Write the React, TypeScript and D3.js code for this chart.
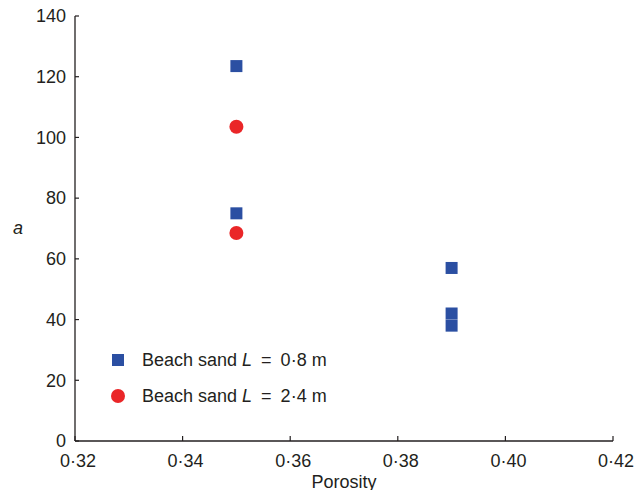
import React from "react";
import * as d3 from "d3";

const sandSmallPorosity = [0.35, 0.35, 0.39, 0.39, 0.39];
const sandSmallA = [123.5, 75, 57, 42, 38];
const sandLargePorosity = [0.35, 0.35];
const sandLargeA = [103.5, 68.5];
const xTicks = [0.32, 0.34, 0.36, 0.38, 0.40, 0.42];
const yTicks = [0, 20, 40, 60, 80, 100, 120, 140];

const W = 644;
const H = 490;
const axisColor = "#231f20";
const blue = "#2b4fa2";
const red = "#ea2628";
const font = "'Liberation Sans', Arial, sans-serif";

export default function App() {
  const x = d3.scaleLinear().domain([0.32, 0.42]).range([75, 613]);
  const y = d3.scaleLinear().domain([0, 140]).range([441, 16]);
  const fmt = (v: number) => v.toFixed(2).replace(".", "\u00B7");
  const sq = 12;
  const fs = 18;
  return (
    <svg width={W} height={H} style={{ position: "absolute", left: 0, top: 0 }} fontFamily={font}>
      <rect x={0} y={0} width={W} height={H} fill="white" />
      {/* axes */}
      <line x1={x(0.32)} x2={x(0.32)} y1={y(140)} y2={y(0)} stroke={axisColor} strokeWidth={1.3} />
      <line x1={x(0.32)} x2={x(0.42)} y1={y(0)} y2={y(0)} stroke={axisColor} strokeWidth={1.3} />
      {yTicks.map((t) => (
        <g key={"y" + t}>
          <line x1={x(0.32)} x2={x(0.32) + 4} y1={y(t)} y2={y(t)} stroke={axisColor} strokeWidth={1.2} />
          <text x={66} y={y(t)} dy="0.35em" textAnchor="end" fontSize={fs} fill={axisColor}>{t}</text>
        </g>
      ))}
      {xTicks.map((t) => (
        <g key={"x" + t}>
          <line x1={x(t)} x2={x(t)} y1={y(0)} y2={y(0) - 5} stroke={axisColor} strokeWidth={1.2} />
          <text x={x(t) + 3} y={467} textAnchor="middle" fontSize={fs} fill={axisColor}>{fmt(t)}</text>
        </g>
      ))}
      <text x={344} y={488} textAnchor="middle" fontSize={fs} fill={axisColor}>Porosity</text>
      <text x={18} y={234} textAnchor="middle" fontSize={fs} fontStyle="italic" fill={axisColor}>a</text>
      {/* data */}
      {sandSmallPorosity.map((p, i) => (
        <rect key={"s" + i} x={x(p) - sq / 2} y={y(sandSmallA[i]) - sq / 2} width={sq} height={sq} fill={blue} />
      ))}
      {sandLargePorosity.map((p, i) => (
        <circle key={"c" + i} cx={x(p)} cy={y(sandLargeA[i])} r={7} fill={red} />
      ))}
      {/* legend */}
      <rect x={118 - sq / 2} y={360 - sq / 2} width={sq} height={sq} fill={blue} />
      <text x={142} y={366} fontSize={fs} fill={axisColor}>
        Beach sand <tspan fontStyle="italic">L</tspan>{"\u2002=\u2002"}0{"\u00B7"}8 m
      </text>
      <circle cx={118} cy={396} r={7} fill={red} />
      <text x={142} y={402} fontSize={fs} fill={axisColor}>
        Beach sand <tspan fontStyle="italic">L</tspan>{"\u2002=\u2002"}2{"\u00B7"}4 m
      </text>
    </svg>
  );
}
